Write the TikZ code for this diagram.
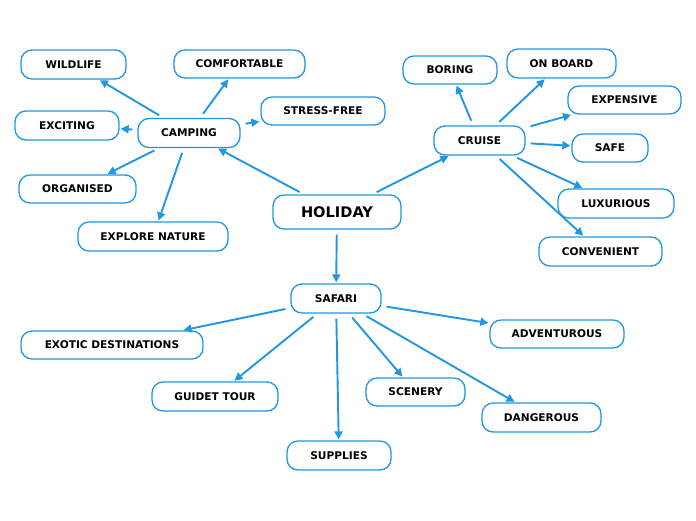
\documentclass[tikz,border=0pt]{standalone}
\usepackage{fontspec}
\setmainfont{DejaVu Sans}
\usetikzlibrary{arrows.meta}
\definecolor{mblue}{RGB}{33,150,226}
\begin{document}
\begin{tikzpicture}[x=1pt,y=-1pt,
  box/.style={draw=mblue,line width=1.3pt,fill=white,rounded corners=11pt,inner sep=0pt,
    font=\fontsize{10.6}{12}\selectfont\bfseries,text=black},
  arr/.style={mblue,line width=1.9pt,-{Triangle[length=8pt,width=8pt]},shorten <=5pt,shorten >=1pt}]
\useasboundingbox (0,0) rectangle (696,520);
\newcommand{\bx}[6]{\node[box,minimum width=#4,minimum height=#5] (#1) at (#2,#3) {#6};}
\node[box,minimum width=128,minimum height=34,font=\fontsize{14.6}{16}\selectfont\bfseries] (holiday) at (337,212) {HOLIDAY};
\bx{camping}{189}{133}{102}{29}{CAMPING}
\bx{cruise}{479.5}{140.5}{91}{29}{CRUISE}
\bx{safari}{336}{298.5}{90}{29}{SAFARI}
\bx{wildlife}{73.5}{64.5}{105}{29}{WILDLIFE}
\bx{comfortable}{239.5}{64}{131}{28}{COMFORTABLE}
\bx{stressfree}{323}{111}{124}{28}{STRESS-FREE}
\bx{exciting}{67}{125.5}{104}{29}{EXCITING}
\bx{organised}{77.5}{189}{117}{28}{ORGANISED}
\bx{explore}{153}{236.5}{150}{29}{EXPLORE NATURE}
\bx{boring}{450}{70}{94}{28}{BORING}
\bx{onboard}{561.5}{63.5}{109}{29}{ON BOARD}
\bx{expensive}{624.5}{100}{113}{28}{EXPENSIVE}
\bx{safe}{610}{148}{76}{28}{SAFE}
\bx{luxurious}{616}{203.5}{116}{29}{LUXURIOUS}
\bx{convenient}{600.5}{251.5}{123}{29}{CONVENIENT}
\bx{adventurous}{557}{334}{134}{28}{ADVENTUROUS}
\bx{exotic}{112}{345}{182}{28}{EXOTIC DESTINATIONS}
\bx{guidet}{215}{396.5}{126}{29}{GUIDET TOUR}
\bx{scenery}{415.5}{392}{99}{28}{SCENERY}
\bx{dangerous}{541.5}{417.5}{119}{29}{DANGEROUS}
\bx{supplies}{339}{455.5}{104}{29}{SUPPLIES}
\draw[arr] (holiday) -- (camping);
\draw[arr] (holiday) -- (cruise);
\draw[arr] (holiday) -- (safari);
\draw[arr] (camping) -- (wildlife);
\draw[arr] (camping) -- (comfortable);
\draw[arr] (camping) -- (stressfree);
\draw[arr] (camping) -- (exciting);
\draw[arr] (camping) -- (organised);
\draw[arr] (camping) -- (explore);
\draw[arr] (cruise) -- (boring);
\draw[arr] (cruise) -- (onboard);
\draw[arr] (cruise) -- (expensive);
\draw[arr] (cruise) -- (safe);
\draw[arr] (cruise) -- (luxurious);
\draw[arr] (cruise) -- (convenient);
\draw[arr] (safari) -- (adventurous);
\draw[arr] (safari) -- (exotic);
\draw[arr] (safari) -- (guidet);
\draw[arr] (safari) -- (supplies);
\draw[arr] (safari) -- (scenery);
\draw[arr] (safari) -- (dangerous);
\end{tikzpicture}
\end{document}
